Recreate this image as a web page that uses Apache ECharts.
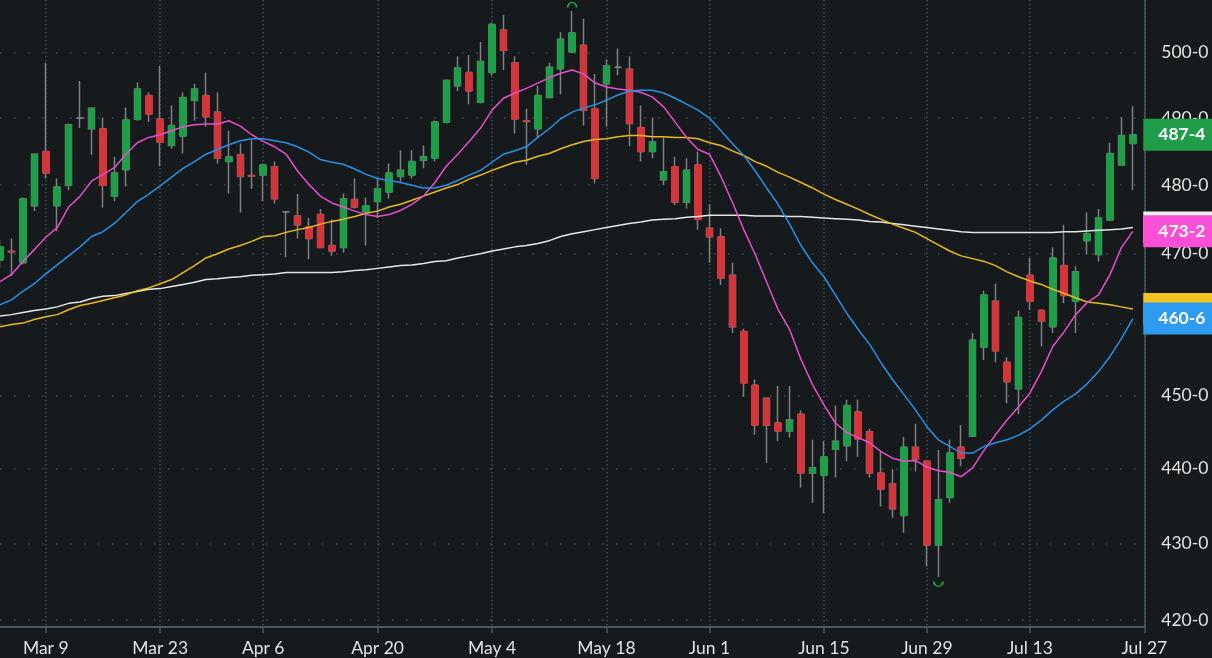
<!DOCTYPE html>
<html>
<head>
<meta charset="utf-8">
<style>
  html, body { margin: 0; padding: 0; background: #161a1d; }
  #chart { width: 1212px; height: 658px; }
</style>
<script src="https://cdn.jsdelivr.net/npm/echarts@6.0.0/dist/echarts.min.js"></script>
</head>
<body>
<div id="chart"></div>
<script>
// daily candles, one per trading day (last slot on the axis is empty: Jul 27)
const open = [469.1,470.35,468.7,477.0,485.0,477.0,480.0,490.0,488.4,488.4,
  478.4,482.3,489.85,493.4,489.85,485.9,487.3,492.7,493.4,490.9,
  483.5,484.5,481.45,481.5,482.75,476.1,475.5,473.9,475.7,471.2,
  470.9,477.9,476.1,477.6,479.0,481.3,481.5,483.7,484.0,489.4,
  494.9,496.9,492.4,496.9,503.4,498.4,489.6,488.4,493.1,497.5,
  500.05,501.1,491.4,495.2,497.7,497.4,488.6,485.0,480.8,482.75,
  477.5,483.0,473.7,472.45,466.9,458.9,451.4,449.6,446.2,445.1,
  447.4,439.4,439.1,442.6,443.1,447.7,445.0,439.4,437.9,433.7,
  442.9,441.0,429.8,436.1,442.9,444.4,456.7,463.2,454.6,450.9,
  466.9,461.9,459.6,468.3,463.2,471.9,469.9,474.9,483.0,486.2];
const close = [471.0,470.25,478.0,484.6,481.8,479.75,489.0,490.0,491.5,480.0,
  481.8,489.7,494.4,490.6,486.4,488.9,493.1,494.4,490.2,484.0,
  484.2,481.3,481.35,483.0,478.0,476.1,474.2,472.2,470.9,470.4,
  478.0,476.8,477.0,479.5,481.8,482.2,483.5,484.2,489.4,495.7,
  497.6,494.1,498.6,504.3,500.3,489.85,489.5,493.4,497.7,502.0,
  503.0,491.2,481.0,497.9,497.7,489.2,485.0,486.4,482.0,477.5,
  482.2,475.0,472.45,466.5,459.6,451.7,445.9,445.9,445.1,446.6,
  439.4,440.1,441.6,443.7,448.6,444.0,439.4,437.2,434.6,442.9,
  441.3,429.8,435.8,442.1,441.4,457.7,464.1,456.2,451.9,460.9,
  463.2,460.4,469.4,464.0,467.4,472.9,475.2,484.7,487.4,487.5];
const low = [468.0,466.8,468.5,476.2,481.0,473.3,479.3,488.5,484.5,476.7,
  477.7,479.8,489.6,489.4,482.8,485.4,484.7,489.6,488.7,483.2,
  478.8,476.0,479.5,477.7,477.3,469.5,472.2,469.2,470.8,469.7,
  470.2,476.6,471.2,475.2,478.0,480.5,481.0,482.5,483.5,489.2,
  494.1,492.1,492.2,496.4,497.3,487.7,483.0,487.1,493.0,493.6,
  499.9,488.9,480.25,488.7,496.5,485.8,483.5,484.0,480.0,477.1,
  476.6,473.5,468.7,465.5,458.7,449.8,444.6,440.8,443.7,444.2,
  437.4,435.4,434.0,438.8,441.0,441.6,438.8,434.9,433.4,431.4,
  439.6,427.0,425.6,435.4,440.3,444.4,454.9,454.6,448.9,447.4,
  462.0,456.8,458.7,462.9,458.7,469.9,468.9,474.75,483.0,479.3];
const high = [472.0,472.2,478.2,484.7,498.4,481.0,489.2,495.6,491.6,490.1,
  484.2,491.6,495.4,493.9,497.9,491.9,493.9,495.2,496.9,493.9,
  488.1,486.2,486.7,483.2,483.5,476.2,478.7,475.2,476.5,475.0,
  478.8,481.0,478.2,481.1,483.2,485.2,485.2,485.9,489.6,495.9,
  499.4,499.6,501.6,504.6,505.8,499.4,491.4,494.9,498.4,503.1,
  506.4,505.2,496.7,498.9,500.6,499.4,491.9,490.1,487.1,484.2,
  484.0,485.0,477.2,473.7,468.7,459.3,452.2,449.6,451.3,451.3,
  447.9,443.9,443.7,448.6,449.4,449.4,445.4,442.4,439.9,444.3,
  446.1,441.0,442.5,443.9,445.9,458.7,464.7,465.7,455.3,461.9,
  469.4,462.1,470.9,474.2,468.2,476.0,476.5,486.3,490.1,491.8];

// moving averages
const maPink = [466.0,467.0,468.9,470.6,472.4,473.8,476.8,478.4,480.6,481.6,
  482.6,484.6,486.3,487.1,487.5,488.1,488.7,489.0,489.1,489.1,
  489.6,488.8,487.5,486.5,485.7,484.6,482.1,480.1,478.4,477.4,
  476.8,476.2,475.7,475.4,475.7,476.3,477.2,478.4,480.4,482.8,
  484.6,486.5,488.5,491.2,493.0,493.8,494.5,495.3,496.1,496.8,
  497.3,496.7,495.3,494.7,494.4,494.2,493.9,493.2,491.7,489.4,
  487.1,485.3,484.6,481.3,477.5,473.5,469.9,465.9,462.0,459.2,
  455.0,451.5,448.7,446.2,444.9,444.2,443.5,442.3,441.4,441.0,
  441.1,440.2,439.7,439.5,438.9,440.1,442.5,444.6,446.6,448.4,
  450.3,453.3,456.8,458.9,461.3,463.0,464.1,467.0,470.9,473.25];
const maBlue = [462.7,463.4,464.6,465.7,467.1,468.4,469.7,471.0,472.5,473.2,
  474.4,476.0,477.6,478.7,479.9,481.2,482.5,483.5,484.6,485.3,
  486.0,486.6,486.9,486.9,486.6,486.3,485.7,484.9,483.8,483.4,
  483.1,482.4,481.6,481.0,480.7,480.4,480.0,479.6,479.6,480.0,
  480.7,481.5,482.2,483.4,484.6,485.1,485.7,487.1,488.4,489.9,
  490.9,491.5,492.0,492.7,493.5,494.1,494.2,494.2,493.8,493.0,
  492.1,491.2,490.0,488.1,486.2,484.4,482.1,479.6,477.2,474.3,
  471.2,468.7,466.7,464.1,461.5,459.2,457.1,454.5,452.2,450.1,
  448.0,445.7,443.9,443.0,442.1,442.1,443.0,443.5,443.9,444.5,
  445.4,446.6,448.0,449.2,450.2,451.6,453.3,455.4,457.9,460.75];
const maYellow = [459.6,459.9,460.1,460.6,461.0,461.3,462.0,462.6,462.9,463.3,
  463.7,464.1,464.7,465.1,465.7,466.3,467.3,468.3,469.4,470.0,
  470.7,471.2,471.8,472.5,472.6,473.1,473.5,473.8,474.3,474.7,
  475.0,475.4,475.9,476.2,476.8,477.2,477.8,478.4,479.0,479.6,
  480.1,480.9,481.5,482.2,482.8,483.4,483.7,484.3,484.7,485.4,
  486.0,486.5,486.8,486.9,487.2,487.4,487.4,487.2,487.2,487.1,
  487.1,486.9,486.3,485.9,485.1,484.4,483.5,482.8,481.9,481.2,
  480.4,479.6,478.7,477.9,477.2,476.5,475.7,475.0,474.3,473.7,
  473.1,472.2,471.3,470.4,469.7,469.3,468.9,468.3,467.4,466.7,
  466.1,465.6,464.9,464.3,463.7,463.1,462.9,462.7,462.4,462.1];
const maWhite = [461.1,461.3,461.6,461.9,462.1,462.4,462.9,463.1,463.6,463.9,
  464.0,464.3,464.6,464.9,465.0,465.3,465.6,465.9,466.3,466.4,
  466.6,466.7,466.9,467.0,467.1,467.3,467.3,467.3,467.3,467.3,
  467.4,467.6,467.7,467.9,468.1,468.3,468.4,468.6,468.9,469.0,
  469.4,469.7,470.0,470.4,470.7,471.0,471.2,471.5,471.9,472.5,
  472.9,473.2,473.5,473.8,474.1,474.4,474.6,474.9,475.0,475.1,
  475.3,475.4,475.6,475.6,475.6,475.6,475.5,475.5,475.5,475.4,
  475.4,475.3,475.2,475.1,475.0,474.9,474.7,474.6,474.4,474.2,
  474.0,473.8,473.6,473.4,473.2,473.1,473.1,473.1,473.1,473.1,
  473.1,473.1,473.1,473.2,473.2,473.3,473.4,473.5,473.6,473.8];

const tickIndex = [4, 14, 23, 33, 43, 53, 62, 72, 81, 90, 100];
const tickLabels = ['Mar 9', 'Mar 23', 'Apr 6', 'Apr 20', 'May 4', 'May 18',
  'Jun 1', 'Jun 15', 'Jun 29', 'Jul 13', 'Jul 27'];
const priceTicks = [420, 430, 440, 450, 460, 470, 480, 490, 500];

const UP = '#1f9d48', DOWN = '#d3363a', WICK = '#808080';
const FONT = 'Lato, "Open Sans", sans-serif';

// price in cents and eighths: 487.5 -> 487-4
function eighths(v) {
  let w = Math.floor(v), e = Math.round((v - w) * 8);
  if (e === 8) { w += 1; e = 0; }
  return w + '-' + e;
}

const days = Array.from({ length: open.length + 1 }, (_, i) => String(i));
const candles = open.map((o, i) => [o, close[i], low[i], high[i]]);
// bodies only (no wicks), drawn over the grey wick candles
const bodies = open.map((o, i) => [o, close[i], Math.min(o, close[i]), Math.max(o, close[i])]);
const isTick = (i) => tickIndex.indexOf(i) >= 0;

function tag(value, bg) {
  return {
    silent: true,
    symbol: 'none',
    animation: false,
    lineStyle: { color: 'transparent', width: 0 },
    label: {
      show: true,
      position: 'end',
      distance: -1,
      formatter: () => eighths(value),
      backgroundColor: bg,
      color: '#ffffff',
      fontFamily: FONT,
      fontWeight: 'bold',
      fontSize: 17.5,
      lineHeight: 20,
      padding: [6, 14, 6, 15]
    },
    data: [{ yAxis: value }]
  };
}

function maLine(name, data, color, tagColor) {
  return {
    name: name,
    type: 'line',
    data: data,
    showSymbol: false,
    smooth: false,
    lineStyle: { color: color, width: 1.5 },
    markLine: tag(data[data.length - 1], tagColor)
  };
}

const chart = echarts.init(document.getElementById('chart'), null, { renderer: 'canvas' });

chart.setOption({
  backgroundColor: '#161a1d',
  animation: false,
  grid: { left: -3.7, right: 67.7, top: 0, bottom: 31 },
  xAxis: {
    type: 'category',
    data: days,
    boundaryGap: false,
    axisLine: { lineStyle: { color: '#4a5863', width: 2 } },
    axisTick: { interval: (i) => isTick(i), length: 6, lineStyle: { color: '#4a5863', width: 1.5 } },
    axisLabel: {
      interval: (i) => isTick(i),
      formatter: (v, i) => tickLabels[tickIndex.indexOf(Number(v))] || '',
      color: '#e2e2e2',
      fontFamily: FONT,
      fontSize: 17.5,
      margin: 12
    },
    splitLine: {
      show: true,
      interval: (i) => isTick(i),
      lineStyle: { color: '#3e4c57', width: 1.5, type: [1.5, 2.5] }
    }
  },
  yAxis: {
    type: 'log',
    position: 'right',
    min: 419.1,
    max: 508.1,
    axisLine: { show: true, lineStyle: { color: '#4a5863', width: 1.5 } },
    axisTick: { show: false, customValues: priceTicks },
    axisLabel: {
      customValues: priceTicks,
      formatter: (v) => Math.round(v) + '-0',
      color: '#e2e2e2',
      fontFamily: FONT,
      fontSize: 17.5,
      margin: 17
    },
    splitLine: {
      show: true,
      lineStyle: { color: '#3e4c57', width: 1.5, type: [1.5, 12.5] }
    }
  },
  series: [
    {
      name: 'wick',
      type: 'candlestick',
      data: candles,
      barWidth: 6,
      itemStyle: {
        color: WICK, color0: WICK,
        borderColor: WICK, borderColor0: WICK, borderColorDoji: WICK,
        borderWidth: 1.5
      },
      markPoint: {
        silent: true,
        animation: false,
        label: { show: false },
        itemStyle: { color: 'transparent', borderColor: UP, borderWidth: 1.5 },
        data: [
          { type: 'max', valueDim: 'highest', symbol: 'path://M0,10 A10,10 0 0 1 20,10', symbolSize: [9, 5], symbolOffset: [0, -6] },
          { type: 'min', valueDim: 'lowest', symbol: 'path://M0,0 A10,10 0 0 0 20,0', symbolSize: [9, 5], symbolOffset: [0, 7] }
        ]
      }
    },
    {
      name: 'price',
      type: 'candlestick',
      data: bodies,
      barWidth: 7,
      itemStyle: {
        color: UP, color0: DOWN,
        borderColor: UP, borderColor0: DOWN, borderColorDoji: WICK,
        borderWidth: 1
      },
      markLine: tag(close[close.length - 1], UP)
    },
    maLine('MA long', maWhite, '#e6e6e6', '#f0f0f0'),
    maLine('MA slow', maYellow, '#e8b923', '#f5c623'),
    maLine('MA fast', maPink, '#e64fca', '#fb4fd8'),
    maLine('MA mid', maBlue, '#2a8fe6', '#2d9bf0')
  ]
});
</script>
</body>
</html>
